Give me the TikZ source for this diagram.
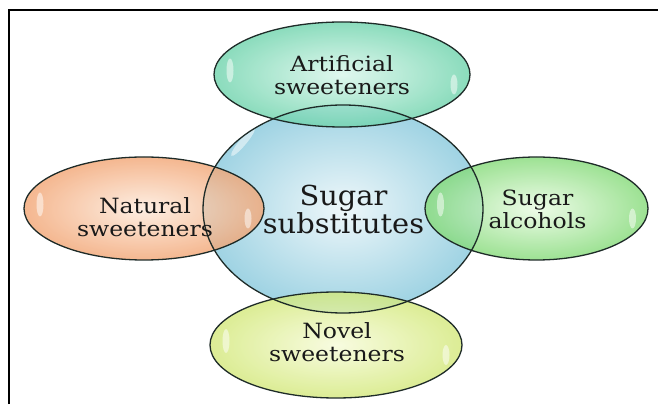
\documentclass[tikz,border=0pt]{standalone}
\usepackage{fontspec}
\setmainfont{DejaVu Serif}
\definecolor{edgeC}{HTML}{1E2B28}
\definecolor{cIn}{HTML}{EEF7FA}\definecolor{cOut}{HTML}{9FD3E3}
\definecolor{tIn}{HTML}{D8F6EA}\definecolor{tOut}{HTML}{6ED3AC}
\definecolor{lIn}{HTML}{FDEADB}\definecolor{lOut}{HTML}{F2A574}
\definecolor{rIn}{HTML}{E9FBE2}\definecolor{rOut}{HTML}{84DA78}
\definecolor{bIn}{HTML}{F6FBD8}\definecolor{bOut}{HTML}{D3E87A}
\begin{document}
\begin{tikzpicture}[x=1pt,y=1pt,
  bubbleline/.style={draw=edgeC, line width=1.3pt},
  gloss/.style={fill=white, fill opacity=0.5},
  lbl/.style={align=center, text=black!90, inner sep=0pt},
  small/.style={lbl, xscale=1.12, font=\fontsize{21}{23}\selectfont},
  big/.style={lbl, xscale=1.05, font=\fontsize{27.5}{27}\selectfont}]
\useasboundingbox (0,0) rectangle (658,404);
% frame
\draw[line width=2pt] (9,0) -- (9,394) -- (658,394);
% centres
\coordinate (cC) at (343,195);
\coordinate (cT) at (342,329.5);
\coordinate (cB) at (336,59);
\coordinate (cL) at (144,195.5);
\coordinate (cR) at (536.5,195.5);
% fills
\shade[inner color=cIn, outer color=cOut] (cC) ellipse [x radius=140, y radius=104];
\shade[inner color=tIn, outer color=tOut, fill opacity=0.8] (cT) ellipse [x radius=128, y radius=52.5];
\shade[inner color=lIn, outer color=lOut, fill opacity=0.8] (cL) ellipse [x radius=120, y radius=51.5];
\shade[inner color=rIn, outer color=rOut, fill opacity=0.8] (cR) ellipse [x radius=111.5, y radius=51.5];
\shade[inner color=bIn, outer color=bOut, fill opacity=0.8] (cB) ellipse [x radius=126, y radius=53];
% gloss highlights
\fill[gloss] ([xshift=-112,yshift=4]cT) ellipse [x radius=3.5, y radius=12];
\fill[gloss] ([xshift=112,yshift=-10]cT) ellipse [x radius=3.5, y radius=10];
\fill[gloss] ([xshift=-104,yshift=4]cL) ellipse [x radius=3.5, y radius=12];
\fill[gloss] ([xshift=104,yshift=-10]cL) ellipse [x radius=3.5, y radius=10];
\fill[gloss] ([xshift=-96,yshift=4]cR) ellipse [x radius=3.5, y radius=12];
\fill[gloss] ([xshift=96,yshift=-10]cR) ellipse [x radius=3.5, y radius=10];
\fill[gloss] ([xshift=-110,yshift=4]cB) ellipse [x radius=3.5, y radius=12];
\fill[gloss] ([xshift=110,yshift=-10]cB) ellipse [x radius=3.5, y radius=10];
\begin{scope}[shift={(243,262)}, rotate=-40]
  \fill[gloss] (0,0) ellipse [x radius=3.5, y radius=18];
\end{scope}
\begin{scope}[shift={(450,125)}, rotate=-40]
  \fill[gloss] (0,0) ellipse [x radius=3, y radius=14];
\end{scope}
% outlines
\draw[bubbleline] (cC) ellipse [x radius=140, y radius=104];
\draw[bubbleline] (cT) ellipse [x radius=128, y radius=52.5];
\draw[bubbleline] (cL) ellipse [x radius=120, y radius=51.5];
\draw[bubbleline] (cR) ellipse [x radius=111.5, y radius=51.5];
\draw[bubbleline] (cB) ellipse [x radius=126, y radius=53];
% labels
\node[big] (tC) at (343.5,194.5) {Sugar\\substitutes};
\node[small] (tT) at (342,329) {Artificial\\sweeteners};
\node[small] (tL) at (145,186.5) {Natural\\sweeteners};
\node[small] (tR) at (537.5,194.5) {Sugar\\alcohols};
\node[small] (tB) at (337,62) {Novel\\sweeteners};
\end{tikzpicture}
\end{document}
